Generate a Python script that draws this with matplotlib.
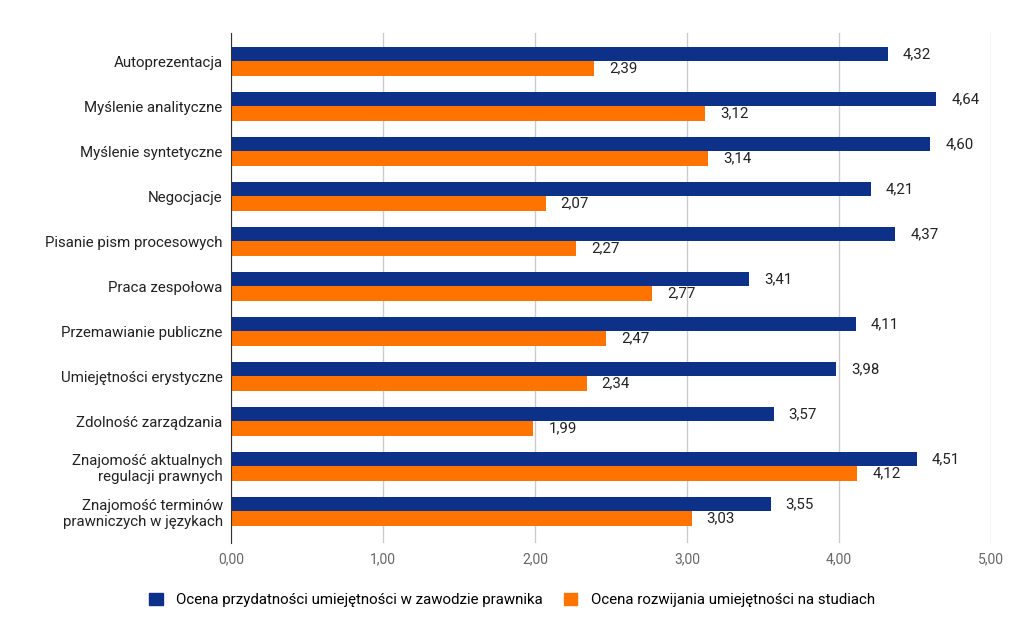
import matplotlib
matplotlib.use("Agg")
import matplotlib.pyplot as plt
from matplotlib.patches import Patch

plt.rcParams['font.family'] = ['Roboto', 'DejaVu Sans']

categories = [
    "Autoprezentacja",
    "Myślenie analityczne",
    "Myślenie syntetyczne",
    "Negocjacje",
    "Pisanie pism procesowych",
    "Praca zespołowa",
    "Przemawianie publiczne",
    "Umiejętności erystyczne",
    "Zdolność zarządzania",
    "Znajomość aktualnych\nregulacji prawnych",
    "Znajomość terminów\nprawniczych w językach",
]
przydatnosc = [4.32, 4.64, 4.60, 4.21, 4.37, 3.41, 4.11, 3.98, 3.57, 4.51, 3.55]
rozwijanie = [2.39, 3.12, 3.14, 2.07, 2.27, 2.77, 2.47, 2.34, 1.99, 4.12, 3.03]
series_names = ["Ocena przydatności umiejętności w zawodzie prawnika",
                "Ocena rozwijania umiejętności na studiach"]
xticks = [0, 1, 2, 3, 4, 5]

c_blue = "#0d3089"
c_orange = "#ff7400"

fig = plt.figure(figsize=(10.24, 6.41), dpi=100)
ax = fig.add_axes([231/1024, 1-543/641, (991-231)/1024, (543-33)/641])

n = len(categories)
ys = list(range(n))
h = 0.32
ax.barh([y - h/2 for y in ys], przydatnosc, height=h, color=c_blue, zorder=3)
ax.barh([y + h/2 for y in ys], rozwijanie, height=h, color=c_orange, zorder=3)

def fmt(v):
    return f"{v:.2f}".replace(".", ",")

for y, v in zip(ys, przydatnosc):
    ax.annotate(fmt(v), (v, y - h/2), xytext=(15, 0), textcoords="offset pixels",
                va="center", ha="left", fontsize=10.8, color="#222222")
for y, v in zip(ys, rozwijanie):
    ax.annotate(fmt(v), (v, y + h/2), xytext=(15, 0), textcoords="offset pixels",
                va="center", ha="left", fontsize=10.8, color="#222222")

ax.set_xlim(0, 5)
ax.set_ylim(10.7, -0.633)
ax.set_yticks(ys)
ax.set_yticklabels(categories, fontsize=10.8, color="#222222", ha="right", multialignment="right")
ax.set_xticks(xticks)
ax.set_xticklabels([fmt(x) for x in xticks], fontsize=10, color="#666666")
ax.tick_params(axis="both", length=0)
ax.tick_params(axis="y", pad=6)
ax.tick_params(axis="x", pad=7)
ax.grid(axis="x", color="#cccccc", linewidth=1, zorder=0)
for s in ["top", "right", "bottom"]:
    ax.spines[s].set_visible(False)
ax.spines["left"].set_color("#333333")
ax.spines["left"].set_zorder(4)

handles = [Patch(color=c_blue), Patch(color=c_orange)]
fig.legend(handles, series_names, loc="center", bbox_to_anchor=(512/1024, 1-600/641),
           ncol=2, frameon=False, fontsize=10.8, handlelength=0.9, handleheight=0.9,
           columnspacing=1.4, handletextpad=0.9)

fig.savefig("out.png", dpi=100)
